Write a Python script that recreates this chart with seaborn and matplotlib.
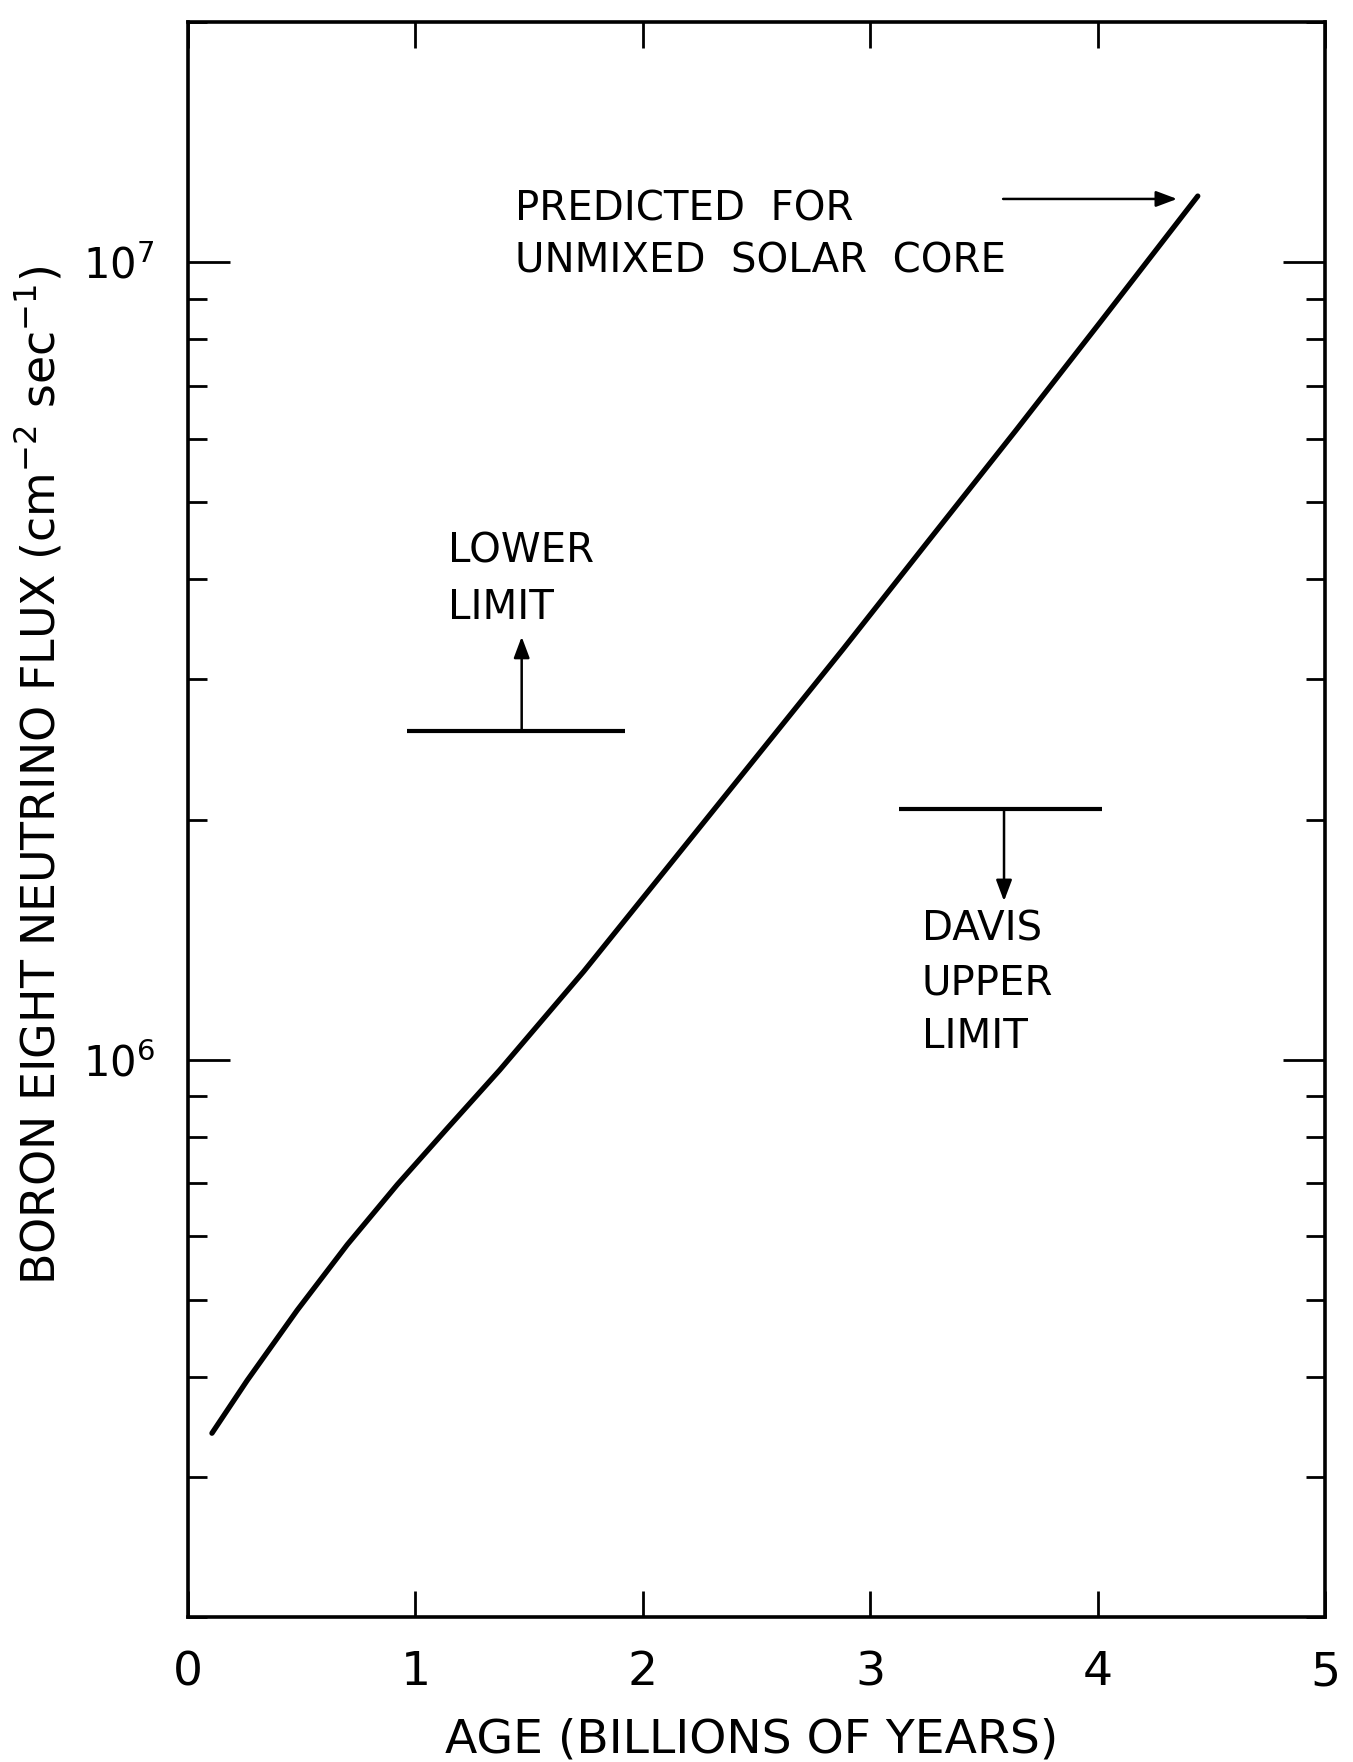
import numpy as np
import pandas as pd
import matplotlib
matplotlib.use("Agg")
import matplotlib.pyplot as plt
import seaborn as sns
from matplotlib.ticker import LogLocator, NullFormatter, NullLocator, FixedLocator

# data
age = [0.105, 0.26, 0.48, 0.70, 0.92, 1.14, 1.37, 1.74, 2.10, 2.47, 2.88, 3.25, 3.64, 4.01, 4.44]
flux = [3.40e5, 3.96e5, 4.85e5, 5.86e5, 6.97e5, 8.20e5, 9.70e5, 1.29e6, 1.73e6, 2.34e6,
        3.27e6, 4.45e6, 6.15e6, 8.40e6, 1.21e7]

lower_limit = 2.58e6
lower_span = [0.962, 1.922]
lower_arrow_x = 1.467
lower_arrow_top = 3.39e6

davis_limit = 2.06e6
davis_span = [3.124, 4.017]
davis_arrow_x = 3.588
davis_arrow_bottom = 1.58e6

pred_arrow_x = [3.584, 4.349]
pred_arrow_y = 1.20e7

x_ticks = [0, 1, 2, 3, 4, 5]

sns.set_theme(style="ticks")
plt.rcParams["font.family"] = ["DejaVu Sans"]
plt.rcParams["mathtext.fontset"] = "dejavusans"

df = pd.DataFrame({"age": age, "flux": flux})

fig = plt.figure(figsize=(13.53, 17.62), dpi=100)
ax = fig.add_axes([0.1390, 0.0823, 0.8404, 0.9052])

sns.lineplot(data=df, x="age", y="flux", ax=ax, color="black", lw=3.8)
ax.set_yscale("log")
ax.set_xlim(0, 5)
ax.set_ylim(2e5, 2e7)

for s in ax.spines.values():
    s.set_linewidth(2.6)
    s.set_color("black")

ax.xaxis.set_major_locator(FixedLocator(x_ticks))
ax.xaxis.set_minor_locator(NullLocator())
ax.yaxis.set_major_locator(LogLocator(base=10, numticks=10))
ax.yaxis.set_minor_locator(LogLocator(base=10, subs=np.arange(2, 10), numticks=20))
ax.yaxis.set_minor_formatter(NullFormatter())

ax.tick_params(axis="both", which="both", direction="in", top=True, right=True,
               color="black", labelcolor="black")
ax.tick_params(axis="x", which="major", length=18.5, width=2, pad=24, labelsize=34)
ax.tick_params(axis="y", which="major", length=30, width=2, pad=24, labelsize=30)
ax.tick_params(axis="y", which="minor", length=14, width=2)

ax.set_xlabel("AGE (BILLIONS OF YEARS)", fontsize=34, color="black")
ax.xaxis.set_label_coords(0.496, -0.063)
ax.set_ylabel(r"BORON EIGHT NEUTRINO FLUX (cm$^{-2}$ sec$^{-1}$)", fontsize=33, color="black")
ax.yaxis.set_label_coords(-0.109, 0.528)

# limits
ax.hlines(lower_limit, lower_span[0], lower_span[1], color="black", lw=3)
ax.hlines(davis_limit, davis_span[0], davis_span[1], color="black", lw=3)

arrow = dict(arrowstyle="-|>,head_length=0.8,head_width=0.3", color="black", lw=1.8,
             shrinkA=0, shrinkB=0, mutation_scale=16)
ax.annotate("", xy=(lower_arrow_x, lower_arrow_top), xytext=(lower_arrow_x, lower_limit), arrowprops=arrow)
ax.annotate("", xy=(davis_arrow_x, davis_arrow_bottom), xytext=(davis_arrow_x, davis_limit), arrowprops=arrow)
ax.annotate("", xy=(pred_arrow_x[1], pred_arrow_y), xytext=(pred_arrow_x[0], pred_arrow_y), arrowprops=arrow)

ax.text(1.438, 1.08e7, "PREDICTED  FOR\nUNMIXED  SOLAR  CORE", fontsize=29,
        ha="left", va="center", linespacing=1.40, color="black")
ax.text(1.143, 4.00e6, "LOWER\nLIMIT", fontsize=29, ha="left", va="center",
        linespacing=1.52, color="black")
ax.text(3.226, 1.247e6, "DAVIS\nUPPER\nLIMIT", fontsize=29, ha="left", va="center",
        linespacing=1.45, color="black")

fig.savefig("out.png", dpi=100, facecolor="white")
